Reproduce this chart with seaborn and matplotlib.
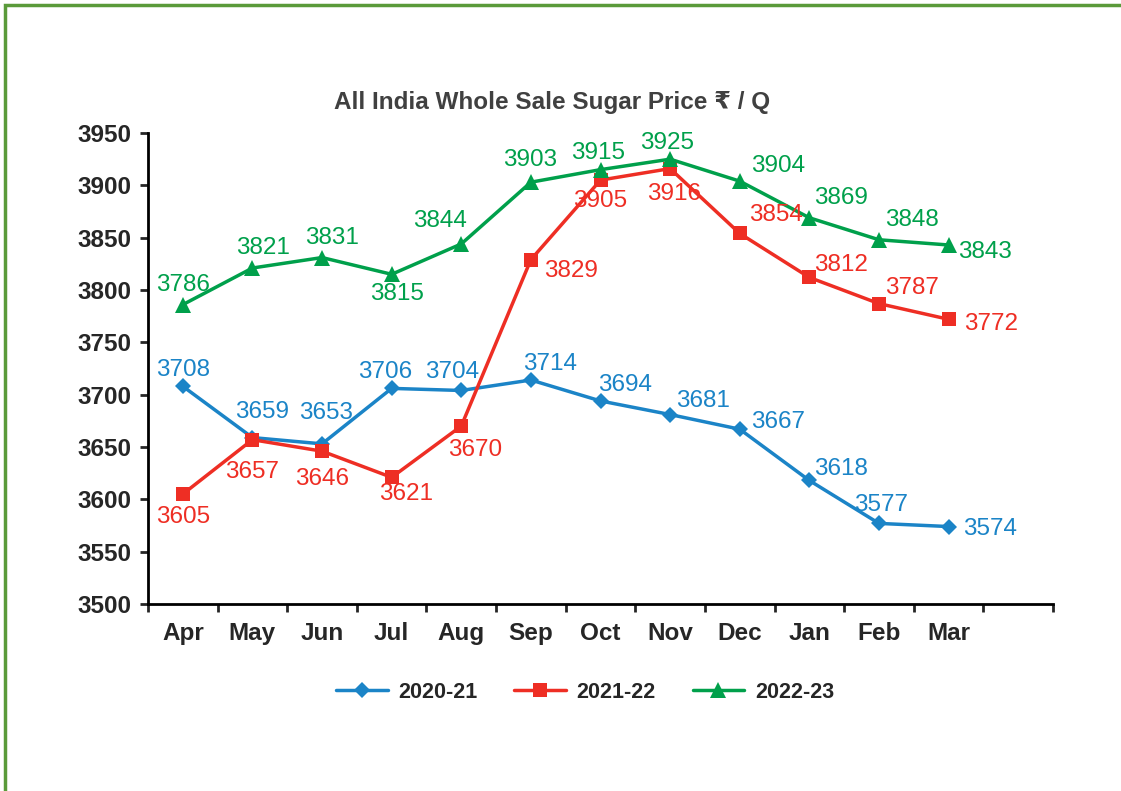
import numpy as np
import pandas as pd
import matplotlib.pyplot as plt
import seaborn as sns
from matplotlib.patches import Rectangle

months = ["Apr", "May", "Jun", "Jul", "Aug", "Sep", "Oct", "Nov", "Dec", "Jan", "Feb", "Mar"]
price_2020_21 = [3708, 3659, 3653, 3706, 3704, 3714, 3694, 3681, 3667, 3618, 3577, 3574]
price_2021_22 = [3605, 3657, 3646, 3621, 3670, 3829, 3905, 3916, 3854, 3812, 3787, 3772]
price_2022_23 = [3786, 3821, 3831, 3815, 3844, 3903, 3915, 3925, 3904, 3869, 3848, 3843]
seasons = ["2020-21", "2021-22", "2022-23"]

# label offsets in pixels (dx, dy), one per point
offsets = {
    "2020-21": [(0, 16), (10, 26), (4, 31), (-7, 16), (-9, 18), (19, 16), (25, 16), (33, 14), (38, 7), (32, 11), (2, 18), (41, -2)],
    "2021-22": [(0, -23), (0, -32), (0, -28), (14, -17), (14, -24), (40, -11), (0, -21), (4, -25), (36, 18), (32, 12), (33, 16), (42, -5)],
    "2022-23": [(0, 20), (11, 20), (10, 20), (5, -20), (-21, 23), (-1, 22), (-2, 17), (-3, 16), (38, 15), (32, 20), (33, 20), (36, -7)],
}
colors = {"2020-21": "#1b84c7", "2021-22": "#ee2e24", "2022-23": "#00a04b"}
markers = {"2020-21": "D", "2021-22": "s", "2022-23": "^"}
msizes = {"2020-21": 8, "2021-22": 10, "2022-23": 11}

df = pd.DataFrame({
    "Month": months * 3,
    "Price": price_2020_21 + price_2021_22 + price_2022_23,
    "Season": np.repeat(seasons, len(months)),
})

sns.set_style("white")
plt.rcParams["font.family"] = ["Liberation Sans", "DejaVu Sans"]

fig = plt.figure(figsize=(11.21, 7.91), dpi=100)
ax = fig.add_axes([148 / 1121, 1 - 604 / 791, 905 / 1121, 471 / 791])

for s in seasons:
    sub = df[df["Season"] == s]
    sns.lineplot(data=sub, x="Month", y="Price", ax=ax, color=colors[s], marker=markers[s],
                 markersize=msizes[s], markeredgewidth=0, linewidth=2.5, label=s, sort=False)
    for i, (m, v) in enumerate(zip(sub["Month"], sub["Price"])):
        dx, dy = offsets[s][i]
        ax.annotate(str(v), (m, v), xytext=(dx, dy), textcoords="offset pixels",
                    ha="center", va="center", fontsize=17.5, color=colors[s])

ax.set_xlim(-0.5, 12.5)
ax.set_ylim(3500, 3950)
ax.set_yticks(np.arange(3500, 3951, 50))
ax.set_xticks(np.arange(-0.5, 12.6, 1), minor=True)
ax.tick_params(axis="x", which="major", length=0, pad=13, labelsize=17.5)
ax.tick_params(axis="x", which="minor", length=6, width=2, direction="out", bottom=True)
ax.tick_params(axis="y", which="major", length=6, width=2, direction="out", left=True, labelsize=17.5, pad=6)
for lab in ax.get_xticklabels() + ax.get_yticklabels():
    lab.set_fontweight("bold")
for side in ["top", "right"]:
    ax.spines[side].set_visible(False)
for side in ["left", "bottom"]:
    ax.spines[side].set_linewidth(2)
    ax.spines[side].set_color("black")
ax.set_xlabel("")
ax.set_ylabel("")

fig.text(552 / 1121, 1 - 102 / 791, "All India Whole Sale Sugar Price ₹ / Q", ha="center", va="center",
         fontsize=17.5, fontweight="bold", color="#404040")

leg = ax.legend(loc="center", bbox_to_anchor=(585 / 1121, 1 - 692 / 791), bbox_transform=fig.transFigure,
                ncol=3, frameon=False, fontsize=15.5, handlelength=2.4, handletextpad=0.5,
                columnspacing=1.7, markerscale=1.0)
for t in leg.get_texts():
    t.set_fontweight("bold")

fig.patches.append(Rectangle((5 / 1121, -0.1), 1.2, 1.1 - 5 / 791, transform=fig.transFigure,
                             fill=False, edgecolor="#5a9a3a", linewidth=2.5, clip_on=False))

fig.savefig("out.png", dpi=100)
